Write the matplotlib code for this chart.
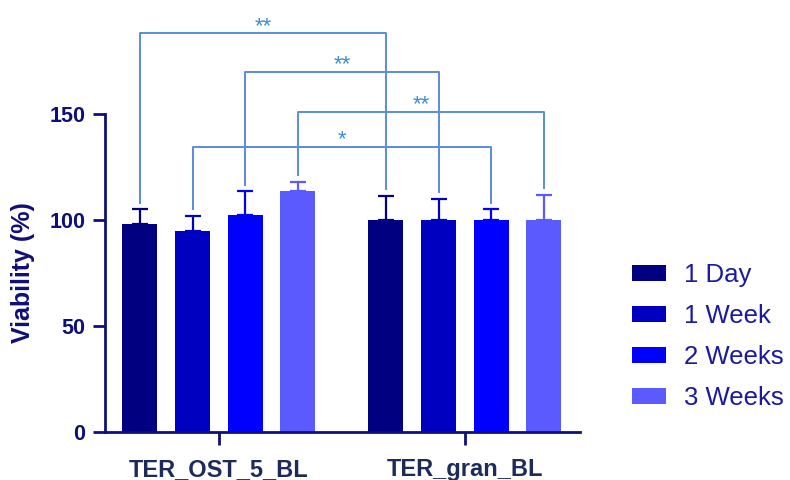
import matplotlib
matplotlib.use("Agg")
import matplotlib.pyplot as plt
from matplotlib.patches import Patch
import numpy as np

plt.rcParams['font.family'] = ['Liberation Sans', 'DejaVu Sans']

groups = ["TER_OST_5_BL", "TER_gran_BL"]
series = ["1 Day", "1 Week", "2 Weeks", "3 Weeks"]
means = {
    "1 Day":   [98.0, 100.0],
    "1 Week":  [95.0, 100.0],
    "2 Weeks": [102.5, 100.0],
    "3 Weeks": [113.5, 100.0],
}
errs = {
    "1 Day":   [7.0, 11.5],
    "1 Week":  [7.0, 10.0],
    "2 Weeks": [11.0, 5.0],
    "3 Weeks": [4.5, 12.0],
}
colors = ["#000080", "#0000C0", "#0000FF", "#5A5AFF"]
yticks = [0, 50, 100, 150]

# significance brackets: (group_a, series_a, group_b, series_b, top, label)
brackets = [
    (0, 0, 1, 0, 188, "**"),
    (0, 2, 1, 1, 170, "**"),
    (0, 3, 1, 3, 151, "**"),
    (0, 1, 1, 2, 134.6, "*"),
]

fig = plt.figure(figsize=(7.9, 4.8), dpi=100)
ax = fig.add_axes([0.1329, 0.1, 0.601, 0.8833])

step = 0.214
width = 0.142
x = np.arange(len(groups))
positions = {}
for i, s in enumerate(series):
    xs = x + (i - 1.5) * step
    positions[s] = xs
    ax.bar(xs, means[s], width=width, color=colors[i], label=s, zorder=2)
    ax.errorbar(xs, means[s], yerr=[np.zeros(len(groups)), errs[s]], fmt='none',
                ecolor=colors[i], elinewidth=1.6, capsize=6, capthick=1.6, zorder=1)

bcol = "#5B8BDE"
tcol = "#3A8ED8"
for ga, sa, gb, sb, top, lab in brackets:
    xa = positions[series[sa]][ga]
    xb = positions[series[sb]][gb]
    ya = means[series[sa]][ga] + errs[series[sa]][ga] + 3
    yb = means[series[sb]][gb] + errs[series[sb]][gb] + 3
    ax.plot([xa, xa, xb, xb], [ya, top, top, yb], color=bcol, lw=1.4,
            clip_on=False, zorder=3)
    ax.text((xa + xb) / 2, top + 0.8, lab, color=tcol, ha='center', va='baseline',
            fontsize=16, clip_on=False)

ax.set_xlim(-0.463, 1.467)
ax.set_ylim(0, 200)
ax.set_yticks(yticks)
ax.set_xticks(x)
ax.set_xticklabels(groups)
navy = "#0F0F78"
for sp in ["top", "right"]:
    ax.spines[sp].set_visible(False)
ax.spines["left"].set_bounds(0, 150)
ax.spines["left"].set_color(navy)
ax.spines["bottom"].set_color(navy)
ax.spines["left"].set_linewidth(2.0)
ax.spines["bottom"].set_linewidth(2.0)
ax.tick_params(axis='y', length=9, width=2.0, color=navy, labelsize=15.5,
               labelcolor=navy, pad=5)
ax.tick_params(axis='x', length=9, width=2.0, color=navy, labelsize=17,
               labelcolor="#1F2A5C", pad=10)
for t in ax.get_yticklabels():
    t.set_fontweight('bold')
for t in ax.get_xticklabels():
    t.set_fontweight('bold')
ax.set_ylabel("Viability (%)", fontsize=18, fontweight='bold', color=navy)
ax.yaxis.set_label_coords(-0.147, 0.376)

handles = [Patch(facecolor=c, edgecolor='none') for c in colors]
fig.legend(handles, series, loc='upper left', bbox_to_anchor=(0.80, 0.452),
           frameon=False, fontsize=18.5, handlelength=1.32, handleheight=0.62,
           handletextpad=0.72, labelspacing=0.66, labelcolor="#1A1AA0",
           borderaxespad=0, borderpad=0)

fig.savefig("out.png", dpi=100)
